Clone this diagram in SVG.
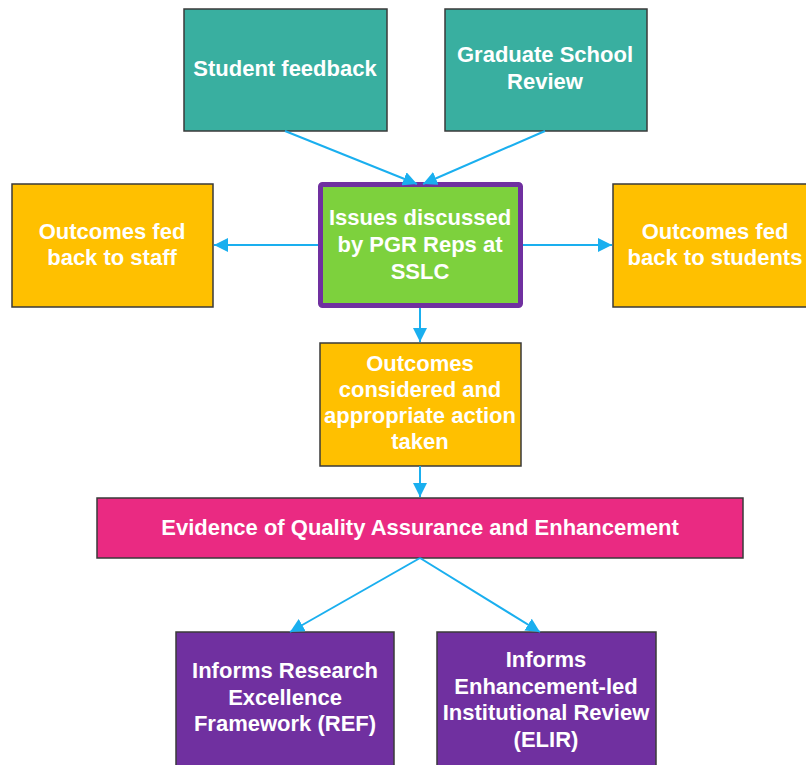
<svg xmlns="http://www.w3.org/2000/svg" width="806" height="765" viewBox="0 0 806 765">
<defs>
<marker id="ah" markerWidth="16" markerHeight="14" refX="14" refY="7" orient="auto" markerUnits="userSpaceOnUse">
<path d="M0,0 L14,7 L0,14 Z" fill="#1AAFEF"/>
</marker>
<style>
.box{stroke:#3a3a3a;stroke-width:1.5}
.teal{fill:#39AFA0}
.orange{fill:#FFC000}
.pink{fill:#EA2A82}
.purple{fill:#7030A0}
.green{fill:#7DD13D;stroke:#7030A0;stroke-width:5}
text{font-family:"Liberation Sans",Arial,sans-serif;font-weight:bold;font-size:22px;fill:#ffffff;text-anchor:middle}
.conn line{stroke:#1AAFEF;stroke-width:2;marker-end:url(#ah)}
</style>
</defs>
<rect width="806" height="765" fill="#ffffff"/>
<g id="student-feedback">
<rect class="box teal" x="184" y="9" width="203" height="122"/>
<text x="285" y="76">Student feedback</text>
</g>
<g id="graduate-school-review">
<rect class="box teal" x="445" y="9" width="202" height="122"/>
<text x="545" y="62">Graduate School</text>
<text x="545" y="89">Review</text>
</g>
<g id="issues-discussed">
<rect class="green" x="320.5" y="184.5" width="200" height="121" rx="2"/>
<text x="420" y="225">Issues discussed</text>
<text x="420" y="252">by PGR Reps at</text>
<text x="420" y="279">SSLC</text>
</g>
<g id="outcomes-staff">
<rect class="box orange" x="12" y="184" width="201" height="123"/>
<text x="112" y="239">Outcomes fed</text>
<text x="112" y="265">back to staff</text>
</g>
<g id="outcomes-students">
<rect class="box orange" x="613" y="184" width="201" height="123"/>
<text x="715" y="239">Outcomes fed</text>
<text x="715" y="265">back to students</text>
</g>
<g id="outcomes-considered">
<rect class="box orange" x="320" y="343" width="201" height="123"/>
<text x="420" y="371">Outcomes</text>
<text x="420" y="397">considered and</text>
<text x="420" y="423">appropriate action</text>
<text x="420" y="449">taken</text>
</g>
<g id="evidence">
<rect class="box pink" x="97" y="498" width="646" height="60"/>
<text x="420" y="535">Evidence of Quality Assurance and Enhancement</text>
</g>
<g id="informs-ref">
<rect class="box purple" x="176" y="632" width="218" height="140"/>
<text x="285" y="678">Informs Research</text>
<text x="285" y="705">Excellence</text>
<text x="285" y="731">Framework (REF)</text>
</g>
<g id="informs-elir">
<rect class="box purple" x="437" y="632" width="219" height="140"/>
<text x="546" y="667">Informs</text>
<text x="546" y="694">Enhancement-led</text>
<text x="546" y="720">Institutional Review</text>
<text x="546" y="747">(ELIR)</text>
</g>
<g id="connectors" class="conn">
<line x1="285" y1="131" x2="417" y2="184"/>
<line x1="545" y1="131" x2="423" y2="184"/>
<line x1="318" y1="245" x2="214" y2="245"/>
<line x1="523" y1="245" x2="612" y2="245"/>
<line x1="420" y1="308" x2="420" y2="342"/>
<line x1="420" y1="466" x2="420" y2="497"/>
<line x1="420" y1="558" x2="290" y2="632"/>
<line x1="420" y1="558" x2="540" y2="632"/>
</g>
</svg>
